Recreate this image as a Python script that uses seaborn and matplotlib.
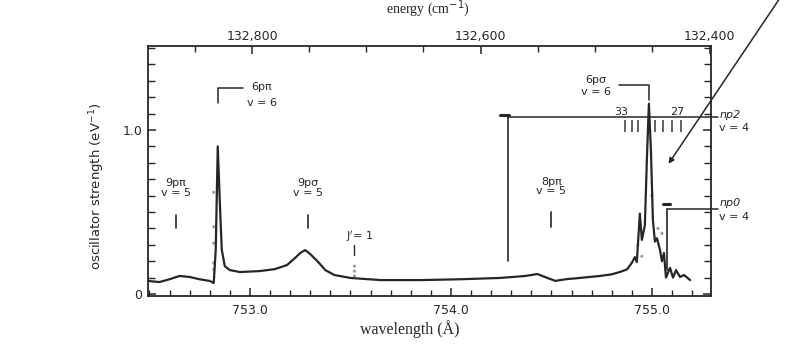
import numpy as np
import pandas as pd
import matplotlib
matplotlib.use("Agg")
import matplotlib.pyplot as plt
import seaborn as sns
from matplotlib.ticker import MultipleLocator, FixedLocator, NullFormatter

# ---------------- data ----------------
wavelength = [752.49, 752.55, 752.60, 752.65, 752.70, 752.75, 752.80, 752.82, 752.83, 752.84,
              752.85, 752.86, 752.875, 752.90, 752.95, 753.05, 753.125, 753.185, 753.225, 753.25,
              753.275, 753.30, 753.34, 753.375, 753.42, 753.50, 753.65, 753.85, 754.045, 754.245,
              754.37, 754.43, 754.48, 754.52, 754.57, 754.64, 754.69, 754.74, 754.80, 754.84,
              754.876, 754.90, 754.915, 754.925, 754.94, 754.95, 754.965, 754.975, 754.985, 754.995,
              755.005, 755.015, 755.025, 755.04, 755.05, 755.06, 755.07, 755.09, 755.105, 755.12,
              755.14, 755.16, 755.19]
strength = [0.080, 0.073, 0.090, 0.110, 0.104, 0.090, 0.080, 0.067, 0.270, 0.900,
            0.570, 0.270, 0.170, 0.146, 0.134, 0.140, 0.152, 0.177, 0.220, 0.250,
            0.268, 0.244, 0.195, 0.146, 0.116, 0.098, 0.085, 0.085, 0.090, 0.098,
            0.110, 0.122, 0.098, 0.080, 0.090, 0.098, 0.104, 0.110, 0.120, 0.134,
            0.150, 0.190, 0.225, 0.195, 0.490, 0.330, 0.420, 0.820, 1.160, 0.880,
            0.450, 0.320, 0.340, 0.270, 0.200, 0.250, 0.100, 0.160, 0.100, 0.146,
            0.104, 0.116, 0.085]

# comparison points (dotted)
dots_wl = [752.82, 752.82, 752.82, 752.82, 752.82, 753.52, 753.52, 753.52,
           754.93, 754.95, 755.00, 755.03, 755.05]
dots_f = [0.62, 0.41, 0.31, 0.19, 0.15, 0.17, 0.14, 0.11,
          0.30, 0.23, 0.60, 0.40, 0.37]

wl_ticks = [753.0, 754.0, 755.0]
wl_labels = ["753.0", "754.0", "755.0"]
f_ticks = [0.0, 1.0]
f_labels = ["0", "1.0"]
energy_ticks = [132800, 132600, 132400]
energy_labels = ["132,800", "132,600", "132,400"]
energy_minor = [132850, 132750, 132700, 132650, 132550, 132500, 132450]

# level markers: (label, wavelength, label height, tick bottom, tick top)
markers = [("9pπ\nv = 5", 752.632, 0.585, 0.402, 0.482),
           ("9pσ\nv = 5", 753.290, 0.585, 0.402, 0.482),
           ("8pπ\nv = 5", 754.500, 0.595, 0.410, 0.500)]
np2_levels = [754.866, 754.900, 754.930, 755.015, 755.055, 755.100, 755.145]
np2_level_labels = ["33", "27"]

# ---------------- plot ----------------
sns.set_style("ticks")
plt.rcParams['font.family'] = ['DejaVu Sans']

fig = plt.figure(figsize=(8.08, 3.46), dpi=100)
ax = fig.add_axes([148 / 808, 50 / 346, 563 / 808, 250 / 346])

ink = "#262626"
df = pd.DataFrame({"wavelength": wavelength, "strength": strength})
sns.lineplot(data=df, x="wavelength", y="strength", ax=ax, color=ink, lw=1.6, sort=False)
dd = pd.DataFrame({"wavelength": dots_wl, "strength": dots_f})
sns.scatterplot(data=dd, x="wavelength", y="strength", ax=ax, color="#9a9a9a", s=5,
                edgecolor="none")

ax.set_xlim(752.493, 755.294)
ax.set_ylim(-0.012, 1.512)

for sp in ax.spines.values():
    sp.set_linewidth(1.3)
    sp.set_color(ink)

ax.xaxis.set_major_locator(FixedLocator(wl_ticks))
ax.set_xticklabels(wl_labels)
ax.xaxis.set_minor_locator(MultipleLocator(0.1))
ax.yaxis.set_major_locator(FixedLocator(f_ticks))
ax.set_yticklabels(f_labels)
ax.yaxis.set_minor_locator(MultipleLocator(0.1))
ax.tick_params(axis="both", which="both", direction="in", colors=ink, labelsize=9,
               right=True, top=False)
ax.tick_params(axis="x", which="major", length=6, width=1.1, pad=6)
ax.tick_params(axis="x", which="minor", length=4, width=1.0)
ax.tick_params(axis="y", which="major", length=6, width=1.1, pad=4)
ax.tick_params(axis="y", which="minor", length=5, width=1.0)

# top energy axis
axt = ax.twiny()
axt.set_xlim(ax.get_xlim())
axt.xaxis.set_major_locator(FixedLocator([1e8 / e for e in energy_ticks]))
axt.set_xticklabels(energy_labels)
axt.xaxis.set_minor_locator(FixedLocator([1e8 / e for e in energy_minor]))
axt.xaxis.set_minor_formatter(NullFormatter())
axt.tick_params(axis="x", which="both", direction="in", colors=ink, labelsize=9, pad=2)
axt.tick_params(axis="x", which="major", length=6, width=1.1)
axt.tick_params(axis="x", which="minor", length=4, width=1.0)
for sp in axt.spines.values():
    sp.set_visible(False)

ax.set_xlabel("wavelength (Å)", family="Liberation Serif", fontsize=11.5, color=ink)
ax.xaxis.set_label_coords(0.465, -0.095)
ax.set_ylabel("oscillator strength (eV$^{-1}$)", fontsize=9.5, color=ink)
ax.yaxis.set_label_coords(-0.072, 0.44)
fig.text(428 / 808, 1 - 9 / 346, "energy (cm$^{-1}$)", family="Liberation Serif",
         fontsize=10, ha="center", va="center", color=ink)

afs = 8
# simple level markers
for lab, wl, ylab, y0, y1 in markers:
    ax.text(wl, ylab, lab, ha="center", va="bottom", fontsize=afs, color=ink,
            linespacing=0.95)
    ax.plot([wl, wl], [y0, y1], color=ink, lw=1.2)

# J' = 1
ax.text(753.545, 0.35, "J$'$= 1", ha="center", va="center", fontsize=afs, color=ink)
ax.plot([753.517, 753.517], [0.24, 0.30], color=ink, lw=1.0)

# 6p pi v = 6 bracket
ax.plot([752.84, 752.84, 752.965], [1.165, 1.256, 1.256], color=ink, lw=1.1)
ax.text(753.06, 1.262, "6pπ", ha="center", va="center", fontsize=afs, color=ink)
ax.text(753.06, 1.165, "v = 6", ha="center", va="center", fontsize=afs, color=ink)

# 6p sigma v = 6 bracket
ax.plot([754.836, 754.985, 754.985], [1.274, 1.274, 1.18], color=ink, lw=1.1)
ax.text(754.72, 1.305, "6pσ", ha="center", va="center", fontsize=afs, color=ink)
ax.text(754.72, 1.232, "v = 6", ha="center", va="center", fontsize=afs, color=ink)

# np2 v = 4 series limit
ax.plot([754.284, 754.284], [0.20, 1.079], color=ink, lw=1.2)
ax.plot([754.284, 755.33], [1.079, 1.079], color=ink, lw=1.1, clip_on=False)
ax.plot([754.245, 754.29], [1.09, 1.09], color=ink, lw=2.2)
ax.vlines(np2_levels, 0.99, 1.06, color="#555555", lw=1.3)
ax.text(np2_levels[0] - 0.02, 1.11, np2_level_labels[0], ha="center", va="center",
        fontsize=afs, color=ink)
ax.text(np2_levels[-1] - 0.02, 1.11, np2_level_labels[1], ha="center", va="center",
        fontsize=afs, color=ink)
ax.text(755.335, 1.09, "np2", ha="left", va="center", fontsize=afs, color=ink,
        style="italic", clip_on=False)
ax.text(755.335, 1.01, "v = 4", ha="left", va="center", fontsize=afs, color=ink,
        clip_on=False)

# np0 v = 4
ax.plot([755.075, 755.075], [0.146, 0.518], color=ink, lw=1.2)
ax.plot([755.075, 755.33], [0.518, 0.518], color=ink, lw=1.1, clip_on=False)
ax.plot([755.055, 755.09], [0.549, 0.549], color=ink, lw=2.2)
ax.text(755.335, 0.555, "np0", ha="left", va="center", fontsize=afs, color=ink,
        style="italic", clip_on=False)
ax.text(755.335, 0.47, "v = 4", ha="left", va="center", fontsize=afs, color=ink,
        clip_on=False)

# arrow from outside the frame
ax.annotate("", xy=(755.075, 0.78), xytext=(755.64, 1.81), xycoords="data",
            arrowprops=dict(arrowstyle="-|>", color=ink, lw=1.1, mutation_scale=8),
            annotation_clip=False)

fig.savefig("out.png", dpi=100)
